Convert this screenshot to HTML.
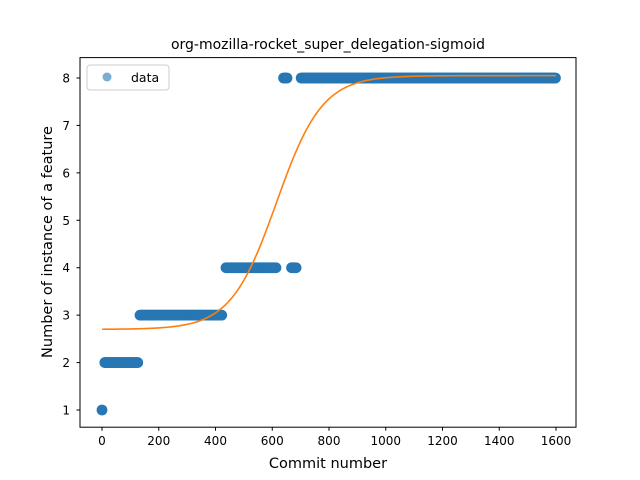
<!DOCTYPE html>
<html><head><meta charset="utf-8"><style>
body{margin:0;background:#fff}
svg{display:block;font-family:"DejaVu Sans","Liberation Sans",sans-serif}
</style></head><body>
<svg id="c" width="640" height="480">
<rect width="640" height="480" fill="#fff"/>
<text x="328" y="49" text-anchor="middle" font-size="14">org-mozilla-rocket_super_delegation-sigmoid</text>
<g id="plot"></g>
<rect x="80" y="57.6" width="496" height="369.6" fill="none" stroke="#000" stroke-width="1"/>
<g id="xt"></g><g id="yt"></g>
<text x="328" y="468" text-anchor="middle" font-size="14.5">Commit number</text>
<text transform="translate(52,242) rotate(-90)" text-anchor="middle" font-size="14.5">Number of instance of a feature</text>
<g>
<rect x="87" y="65" width="82" height="25" rx="3" fill="#fff" stroke="#ccc"/>
<circle cx="107" cy="77" r="4.5" fill="#1f77b4" fill-opacity="0.6"/>
<text x="131" y="82" font-size="12.5">data</text>
</g>
</svg>
<script>
const segStart=[0,10,134,437,668,640,702];
const segEnd=[0,127,423,613,687,654,1600];
const segValue=[1,2,3,4,4,8,8];
const fitBase=[2.7];
const fitAmp=[5.35];
const fitK=[0.0124];
const fitMid=[615];
const xTicks=[0,200,400,600,800,1000,1200,1400,1600];
const yTicks=[1,2,3,4,5,6,7,8];
const X=v=>102+v*0.28375;
const Y=v=>410-(v-1)*47.4286;
const NS="http://www.w3.org/2000/svg";
const plot=document.getElementById('plot');
for(let i=0;i<segStart.length;i++){
  const g=document.createElementNS(NS,'g');
  
  
  for(let x=segStart[i];x<=segEnd[i];x+=4){
    const c=document.createElementNS(NS,'circle');
    c.setAttribute('cx',X(x));c.setAttribute('cy',Y(segValue[i]));c.setAttribute('r',5.4);
    c.setAttribute('fill','#2677b3');
    g.appendChild(c);
  }
  plot.appendChild(g);
}
let d='';
for(let x=0;x<=1600;x+=5){
  const y=fitBase[0]+fitAmp[0]/(1+Math.exp(-fitK[0]*(x-fitMid[0])));
  d+=(x?'L':'M')+X(x).toFixed(2)+' '+Y(y).toFixed(2);
}
const p=document.createElementNS(NS,'path');
p.setAttribute('d',d);p.setAttribute('fill','none');p.setAttribute('stroke','#ff7f0e');p.setAttribute('stroke-width','1.6');


plot.appendChild(p);
const xt=document.getElementById('xt');
xTicks.forEach(v=>{
  const l=document.createElementNS(NS,'line');
  l.setAttribute('x1',X(v));l.setAttribute('x2',X(v));l.setAttribute('y1',427.2);l.setAttribute('y2',430.7);l.setAttribute('stroke','#000');
  
  
  xt.appendChild(l);
  const t=document.createElementNS(NS,'text');
  t.setAttribute('x',X(v));t.setAttribute('y',445);t.setAttribute('text-anchor','middle');t.setAttribute('font-size','12');
  t.textContent=v;
  
  
  xt.appendChild(t);
});
const yt=document.getElementById('yt');
yTicks.forEach(v=>{
  const l=document.createElementNS(NS,'line');
  l.setAttribute('x1',76.5);l.setAttribute('x2',80);l.setAttribute('y1',Y(v));l.setAttribute('y2',Y(v));l.setAttribute('stroke','#000');
  
  
  yt.appendChild(l);
  const t=document.createElementNS(NS,'text');
  t.setAttribute('x',70);t.setAttribute('y',Y(v)+4.5);t.setAttribute('text-anchor','end');t.setAttribute('font-size','12');
  t.textContent=v;
  
  
  yt.appendChild(t);
});
</script>
</body></html>
